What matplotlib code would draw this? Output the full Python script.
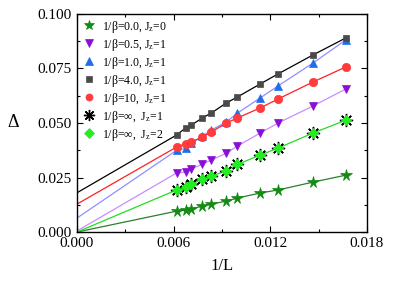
import matplotlib
matplotlib.use("Agg")
import matplotlib.pyplot as plt
from matplotlib.ticker import MultipleLocator

plt.rcParams['font.family'] = ['Liberation Serif', 'DejaVu Serif']
plt.rcParams['mathtext.fontset'] = 'custom'
plt.rcParams['mathtext.rm'] = 'Liberation Serif'
plt.rcParams['mathtext.it'] = 'Liberation Serif:italic'

# 1/L values
inv_L = [0.00619, 0.00674, 0.00711, 0.00779, 0.00835, 0.00928, 0.00996,
         0.01138, 0.01249, 0.01466, 0.01670]

labels = ['1/β=0.0, J$_{\\mathrm{z}}$=0',
          '1/β=0.5, J$_{\\mathrm{z}}$=1',
          '1/β=1.0, J$_{\\mathrm{z}}$=1',
          '1/β=4.0, J$_{\\mathrm{z}}$=1',
          '1/β=10,  J$_{\\mathrm{z}}$=1',
          '1/β=∞,  J$_{\\mathrm{z}}$=1',
          '1/β=∞,  J$_{\\mathrm{z}}$=2']

d_b0_J0 = [0.0096, 0.0101, 0.0106, 0.0119, 0.0128, 0.0142, 0.0156, 0.0179, 0.0193, 0.0229, 0.0261]
d_b05 = [0.0271, 0.0275, 0.0289, 0.0312, 0.0330, 0.0362, 0.0394, 0.0454, 0.0500, 0.0578, 0.0656]
d_b1 = [0.0375, 0.0383, 0.0408, 0.0438, 0.0468, 0.0505, 0.0545, 0.0615, 0.0670, 0.0775, 0.0881]
d_b4 = [0.0445, 0.0477, 0.0491, 0.0523, 0.0546, 0.0592, 0.0619, 0.0679, 0.0725, 0.0812, 0.0890]
d_b10 = [0.0390, 0.0405, 0.0413, 0.0436, 0.0459, 0.0500, 0.0523, 0.0569, 0.0610, 0.0688, 0.0757]
d_inf_J1 = [0.0193, 0.0206, 0.0220, 0.0243, 0.0257, 0.0280, 0.0310, 0.0353, 0.0385, 0.0454, 0.0513]
d_inf_J2 = [0.0193, 0.0206, 0.0220, 0.0243, 0.0257, 0.0280, 0.0310, 0.0353, 0.0385, 0.0454, 0.0513]

# extrapolated values at 1/L = 0
extrap = [0.0, 0.0005, 0.0064, 0.0180, 0.0128, 0.0, 0.0]

series = [d_b0_J0, d_b05, d_b1, d_b4, d_b10, d_inf_J1, d_inf_J2]
marker_colors = ['#138a13', '#8a0fd6', '#1f6ee8', '#4a4a4a', '#ff3b3b', 'black', '#22ee22']
line_colors = ['#2a7f2a', '#c88cff', '#8e8eff', 'black', '#ff2020', None, '#22dd22']
markers = ['*', 'v', '^', 's', 'o', (8, 2, 0), 'D']
msizes = [8.5, 6, 6, 5, 6, 9.5, 5.5]

fig = plt.figure(figsize=(4.16, 2.83), dpi=100)
ax = fig.add_axes([0.185, 0.180, 0.697, 0.771])

for i, ys in enumerate(series):
    if line_colors[i] is not None:
        ax.plot([0.0] + inv_L, [extrap[i]] + ys, '-', color=line_colors[i], lw=0.9, zorder=2)

for i, ys in enumerate(series):
    kw = dict(marker=markers[i], linestyle='none', markersize=msizes[i], label=labels[i], zorder=3 + i)
    if i == 5:
        kw.update(color='black', markeredgewidth=1.0)
    else:
        kw.update(markerfacecolor=marker_colors[i], markeredgecolor=marker_colors[i], markeredgewidth=0.5)
    ax.plot(inv_L, ys, **kw)

ax.set_xlim(0, 0.018)
ax.set_ylim(0, 0.100)
ax.xaxis.set_major_locator(MultipleLocator(0.006))
ax.xaxis.set_minor_locator(MultipleLocator(0.003))
ax.yaxis.set_major_locator(MultipleLocator(0.025))
ax.yaxis.set_minor_locator(MultipleLocator(0.0125))
ax.xaxis.set_major_formatter(matplotlib.ticker.FormatStrFormatter('%.3f'))
ax.yaxis.set_major_formatter(matplotlib.ticker.FormatStrFormatter('%.3f'))
ax.tick_params(which='both', direction='in', top=True, right=True, labelsize=11)
ax.tick_params(which='major', length=4, width=0.8)
ax.tick_params(which='minor', length=2.5, width=0.8)
for s in ax.spines.values():
    s.set_linewidth(1.0)

ax.set_xlabel('1/L', fontsize=12, labelpad=6)
ax.set_ylabel('Δ', fontsize=13, rotation=0, labelpad=18, va='center')

leg = ax.legend(loc='upper left', frameon=False, fontsize=8.5, handletextpad=0.55,
                labelspacing=0.17, borderaxespad=0.1, borderpad=0.3, handlelength=1.2,
                markerscale=0.85, bbox_to_anchor=(0.0, 1.0))

fig.savefig('out.png', dpi=100)
